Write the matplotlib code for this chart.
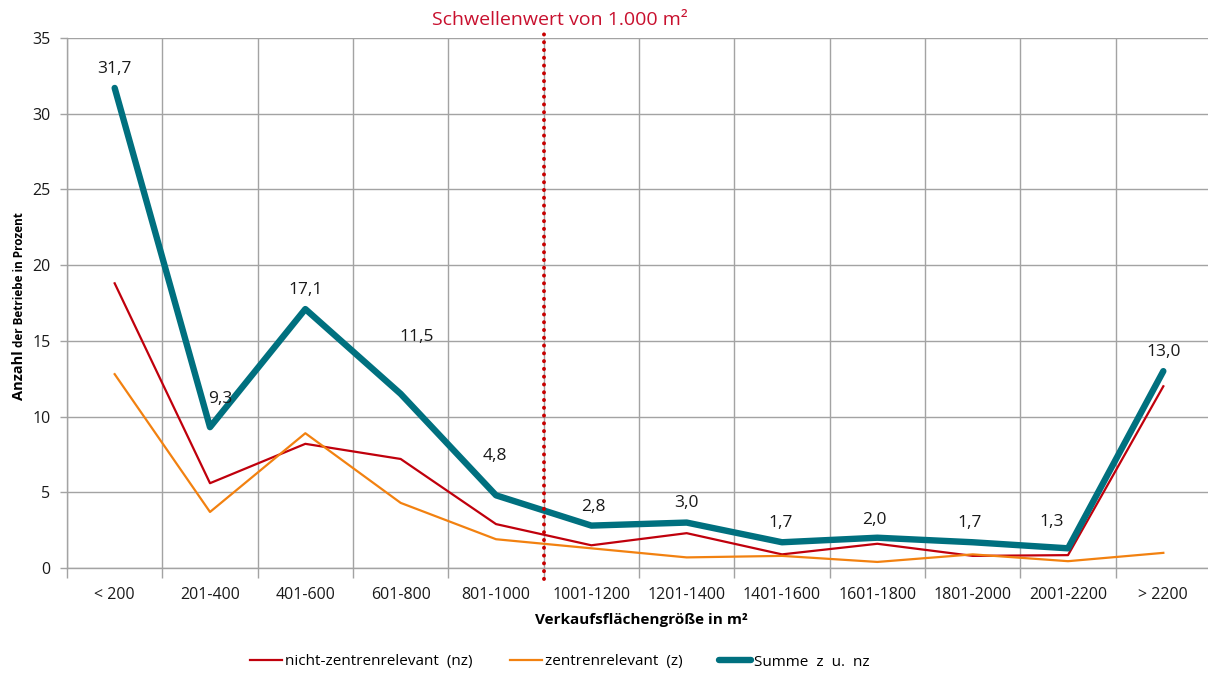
import matplotlib
matplotlib.use("Agg")
import matplotlib.pyplot as plt
from matplotlib.lines import Line2D

# Size classes of sales area (m²)
categories = ["< 200", "201-400", "401-600", "601-800", "801-1000", "1001-1200",
              "1201-1400", "1401-1600", "1601-1800", "1801-2000", "2001-2200", "> 2200"]

# Share of businesses in percent
nicht_zentrenrelevant = [18.8, 5.6, 8.2, 7.2, 2.9, 1.5, 2.3, 0.9, 1.6, 0.8, 0.85, 12.0]
zentrenrelevant = [12.8, 3.7, 8.9, 4.3, 1.9, 1.3, 0.7, 0.8, 0.4, 0.9, 0.45, 1.0]
summe = [31.7, 9.3, 17.1, 11.5, 4.8, 2.8, 3.0, 1.7, 2.0, 1.7, 1.3, 13.0]

y_ticks = [0, 5, 10, 15, 20, 25, 30, 35]
threshold_position = 4.5  # boundary between 801-1000 and 1001-1200
threshold_label = "Schwellenwert von 1.000 m²"

# label placement (pixels, relative to the point)
label_offsets = [(0, 19), (10, 28), (0, 19), (16, 57), (-1, 39), (2, 19),
                 (0, 20), (-1, 19), (-3, 18), (-3, 19), (-16, 26), (0, 19)]

RED = "#c0000c"
ORANGE = "#f28110"
TEAL = "#00707f"
GRID = "#a3a3a3"
TEXT = "#1a1a1a"
FONT = ["Open Sans", "DejaVu Sans"]

W, H = 1208, 673
fig = plt.figure(figsize=(W / 100, H / 100), dpi=100)
ax = fig.add_axes([67 / W, 1 - 568 / H, (1211 - 67) / W, (568 - 38) / H])

x = list(range(len(categories)))
ax.plot(x, nicht_zentrenrelevant, color=RED, lw=1.6, solid_joinstyle="round", zorder=3)
ax.plot(x, zentrenrelevant, color=ORANGE, lw=1.6, solid_joinstyle="round", zorder=3)
ax.plot(x, summe, color=TEAL, lw=4.6, solid_joinstyle="round",
        solid_capstyle="round", zorder=4)

for xi, v, (dx, dy) in zip(x, summe, label_offsets):
    ax.annotate(f"{v:.1f}".replace(".", ","), (xi, v), xytext=(dx, dy),
                textcoords="offset pixels", ha="center", va="center",
                fontsize=12.5, family=FONT, color=TEXT, zorder=5)

ax.set_xlim(-0.5, len(categories) - 0.5)
ax.set_ylim(0, 35)

# axes, ticks, grid
for side in ("top", "right"):
    ax.spines[side].set_visible(False)
for side in ("left", "bottom"):
    ax.spines[side].set_color(GRID)
    ax.spines[side].set_linewidth(1.0)

ax.set_yticks(y_ticks)
ax.set_xticks(x)
ax.set_xticklabels(categories)
ax.set_xticks([i - 0.5 for i in range(len(categories) + 1)], minor=True)
ax.tick_params(axis="x", which="major", length=0, pad=14, labelsize=11.5,
               labelcolor=TEXT)
ax.tick_params(axis="x", which="minor", length=7, width=1.0, color=GRID)
ax.tick_params(axis="y", which="major", length=5, width=1.0, color=GRID,
               pad=7, labelsize=11.5, labelcolor=TEXT)
for lab in ax.get_xticklabels() + ax.get_yticklabels():
    lab.set_family(FONT)

ax.grid(axis="y", which="major", color=GRID, lw=1.0)
ax.grid(axis="x", which="minor", color=GRID, lw=1.0)
ax.grid(axis="x", which="major", visible=False)
ax.set_axisbelow(True)

# threshold marker
ax.axvline(threshold_position, ymin=-0.02, ymax=1.01, color="#c80000", lw=2.8,
           linestyle=(0, (0.05, 1.95)), dash_capstyle="round", clip_on=False, zorder=6)
fig.text(560 / W, 1 - 20 / H, threshold_label, ha="center", va="center",
         fontsize=14, family=FONT, color="#c8102e")

# axis titles
fig.text(641 / W, 1 - 620 / H, "Verkaufsflächengröße in m²", ha="center",
         va="center", fontsize=11, fontweight="bold", family=FONT, color="black")

renderer = fig.canvas.get_renderer()
base_x = 23 / W
part1 = fig.text(base_x, 0, "Anzahl", rotation=90, rotation_mode="anchor",
                 ha="left", va="baseline", fontsize=10.5, fontweight="bold",
                 family=FONT, color="black")
part2 = fig.text(base_x, 0, "der Betriebe in Prozent", rotation=90,
                 rotation_mode="anchor", ha="left", va="baseline", fontsize=8.5,
                 fontweight="bold", family=FONT, color="black")
len1 = part1.get_window_extent(renderer).height
len2 = part2.get_window_extent(renderer).height
gap = 3
total = len1 + gap + len2
start = (673 - 306) - total / 2
part1.set_position((base_x, start / H))
part2.set_position((base_x, (start + len1 + gap) / H))

# legend
handles = [
    Line2D([], [], color=RED, lw=1.6),
    Line2D([], [], color=ORANGE, lw=1.6),
    Line2D([], [], color=TEAL, lw=4.6, solid_capstyle="round"),
]
labels = ["nicht-zentrenrelevant  (nz)", "zentrenrelevant  (z)", "Summe  z  u.  nz"]
fig.legend(handles, labels, loc="center", bbox_to_anchor=(560 / W, 1 - 662 / H),
           ncol=3, frameon=False, handlelength=2.1, handletextpad=0.2,
           columnspacing=2.4, prop={"family": FONT, "size": 11})

fig.savefig("out.png", dpi=100)
